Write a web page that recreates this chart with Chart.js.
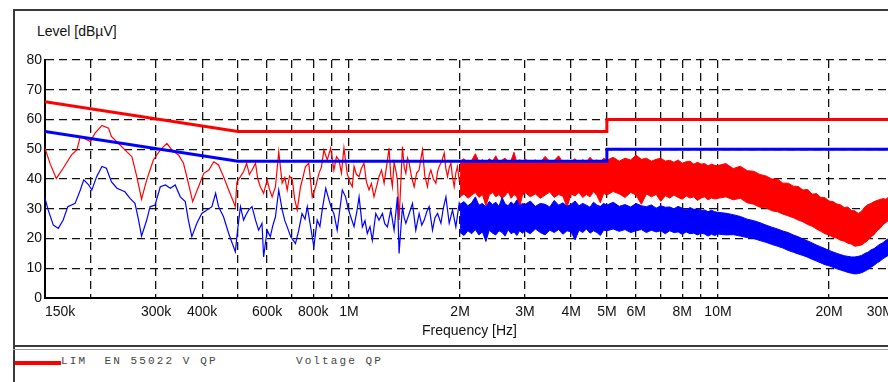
<!DOCTYPE html>
<html>
<head>
<meta charset="utf-8">
<title>Conducted emission</title>
<script src="https://cdn.jsdelivr.net/npm/chart.js"></script>
<style>
    body { margin: 0; width: 888px; height: 382px; overflow: hidden; background: #fff; position: relative; }
    #frame { position: absolute; left: 13px; top: 9px; width: 920px; height: 400px; border: 2px solid #3a3a3a; }
    #sep1 { position: absolute; left: 13px; top: 345px; width: 920px; border-top: 2px solid #3a3a3a; }
    #sep2 { position: absolute; left: 13px; top: 349px; width: 920px; border-top: 1px solid #9a9a9a; }
    #ylab { position: absolute; left: 37px; top: 23px; font: 14px "Liberation Sans", Arial, sans-serif; color: #111; }
    #legbar { position: absolute; left: 15px; top: 361px; width: 46px; height: 4px; background: #ff0000; }
    #legtxt { position: absolute; left: 61px; top: 355px; font: 11px "Liberation Mono", monospace; letter-spacing: 2.1px; color: #444; white-space: pre; }
    #c { position: absolute; left: 0; top: 0; }
</style>
</head>
<body>
<div id="frame"></div>
<div id="ylab">Level [dBµV]</div>
<canvas id="c" width="910" height="345"></canvas>
<div id="sep1"></div>
<div id="sep2"></div>
<div id="legbar"></div>
<div id="legtxt">LIM  EN 55022 V QP         Voltage QP</div>

<script>
    // frequencies in MHz, levels in dBuV
    const tickVals = [0.15, 0.2, 0.3, 0.4, 0.5, 0.6, 0.7, 0.8, 0.9, 1, 2, 3, 4, 5, 6, 7, 8, 9, 10, 20, 30];
    const tickText = ['150k', '', '300k', '400k', '', '600k', '', '800k', '', '1M', '2M', '3M', '4M', '5M', '6M', '', '8M', '', '10M', '20M', '30M'];

    // limit lines EN 55022 class B
    const limF = [0.15, 0.5, 5, 5, 30];
    const limQP = [66, 56, 56, 60, 60];
    const limAV = [56, 46, 46, 50, 50];

    // red trace below 2 MHz
    const redF = [0.150, 0.155, 0.161, 0.168, 0.177, 0.183, 0.187, 0.199, 0.205, 0.214, 0.223, 0.227, 0.237, 0.247,
        0.258, 0.266, 0.274, 0.283, 0.295, 0.308, 0.321, 0.331, 0.345, 0.356, 0.367, 0.377, 0.391, 0.404, 0.417,
        0.430, 0.443, 0.457, 0.472, 0.492, 0.497, 0.508, 0.518, 0.528, 0.537, 0.546, 0.558, 0.566, 0.575, 0.587,
        0.600, 0.609, 0.619, 0.632, 0.645, 0.659, 0.670, 0.680, 0.690, 0.702, 0.713, 0.724, 0.739, 0.750, 0.762,
        0.778, 0.795, 0.812, 0.829, 0.842, 0.855, 0.873, 0.892, 0.910, 0.925, 0.939, 0.954, 0.969, 0.989, 1.005,
        1.021, 1.032, 1.048, 1.065, 1.080, 1.098, 1.115, 1.133, 1.150, 1.169, 1.188, 1.206, 1.225, 1.245, 1.265,
        1.284, 1.298, 1.311, 1.325, 1.339, 1.353, 1.367, 1.381, 1.396, 1.411, 1.426, 1.441, 1.456, 1.479, 1.502,
        1.525, 1.549, 1.565, 1.582, 1.605, 1.632, 1.650, 1.667, 1.693, 1.720, 1.738, 1.756, 1.785, 1.812, 1.830,
        1.850, 1.870, 1.889, 1.908, 1.928, 1.948, 1.968, 1.990, 2.031, 2.060, 2.097];
    const redV = [50.3, 45, 40.2, 43.6, 48.1, 49.8, 54.3, 52.6, 55.4, 58, 57.1, 54.3, 52, 49.8,
        47.5, 40.8, 33.2, 39.7, 46.4, 49.8, 52, 49.8, 48.1, 45.3, 38.6, 32.4, 37.4, 41.9, 43,
        45.8, 44.7, 40.8, 36.3, 30.7, 39.1, 40.8, 42.5, 45.3, 41.5, 43, 45.3, 40, 37.4, 35.2,
        39.7, 36.5, 34, 37.4, 49.2, 38.6, 40.5, 36.3, 41, 39.7, 33, 29.6, 37.4, 40.5, 44.2,
        45.3, 34, 37.4, 41.9, 44, 49.8, 46.4, 50.4, 43, 47.5, 46.4, 42, 50.4, 41.9, 39,
        37.4, 44.2, 41.5, 40.8, 43.5, 45.3, 39, 36.3, 38.5, 34, 37.5, 40.8, 43, 38.6, 44.5,
        50.4, 41, 37.4, 45.5, 43, 39.5, 26.2, 38, 50.9, 44, 41.9, 47, 45.3, 40.5, 37.4,
        42, 43, 46.5, 49.8, 41, 37.4, 41.5, 43, 40, 38.6, 42.5, 44.2, 46, 48.7, 43.5,
        40.8, 44, 45.3, 40.5, 37.4, 42, 44.2, 39.5, 40.8, 44.5, 45.3];

    // blue trace below 2 MHz
    const bluF = [0.150, 0.153, 0.158, 0.163, 0.168, 0.173, 0.181, 0.187, 0.191, 0.197, 0.201, 0.207, 0.214, 0.220,
        0.227, 0.235, 0.247, 0.255, 0.263, 0.269, 0.274, 0.283, 0.289, 0.298, 0.308, 0.318, 0.328, 0.338, 0.349,
        0.360, 0.367, 0.375, 0.387, 0.399, 0.412, 0.425, 0.435, 0.443, 0.457, 0.472, 0.492, 0.500, 0.508, 0.518,
        0.526, 0.535, 0.546, 0.558, 0.569, 0.581, 0.587, 0.600, 0.612, 0.622, 0.632, 0.645, 0.659, 0.670, 0.680,
        0.695, 0.716, 0.731, 0.746, 0.760, 0.771, 0.787, 0.803, 0.820, 0.834, 0.846, 0.865, 0.883, 0.897, 0.910,
        0.929, 0.945, 0.959, 0.979, 0.995, 1.011, 1.032, 1.050, 1.065, 1.087, 1.105, 1.121, 1.140, 1.157, 1.182,
        1.206, 1.232, 1.250, 1.271, 1.298, 1.325, 1.353, 1.367, 1.396, 1.411, 1.426, 1.456, 1.486, 1.517, 1.549,
        1.575, 1.599, 1.625, 1.649, 1.684, 1.710, 1.738, 1.775, 1.800, 1.831, 1.869, 1.908, 1.948, 1.989, 2.031, 2.097];
    const bluV = [33.5, 29.6, 24.5, 23.4, 26.2, 30.7, 31.8, 36.3, 39.7, 38, 36.3, 40.8, 44.2, 43.6,
        39.1, 36.9, 35.7, 33.5, 31.8, 26.2, 20.8, 26.2, 30.7, 31.2, 37.4, 38, 36.9, 38, 34,
        32.4, 26.2, 20.6, 25.1, 28.4, 29.6, 30.7, 35.2, 30.7, 27.3, 21.7, 15.5, 23.9, 30.7, 26.2,
        28, 29.6, 30.7, 26.2, 22.8, 25.1, 13.8, 22.8, 20.6, 24.5, 27.3, 36.3, 29.6, 26, 23.9,
        20.6, 18.3, 22.8, 28.4, 26.5, 30.7, 23.9, 17.2, 26.2, 24, 29.6, 36.9, 32.9, 30, 28.4,
        22.8, 30, 36.3, 34, 30, 27.3, 24, 29, 34, 23.9, 26, 21.7, 24, 19.4, 28.4,
        26.2, 28.4, 25, 23.9, 29.6, 22.8, 34, 15, 30.7, 27, 25.1, 28.4, 31.8, 22.8, 28.4,
        24.5, 26.2, 29, 30.7, 22.8, 27, 28.4, 25.1, 30, 34, 25.1, 29.6, 23.9, 31.8, 27.3, 30.7];

    // dense part above 2 MHz: upper and lower edge of each band
    const bandF = [2.0, 2.05, 2.1, 2.15, 2.2, 2.25, 2.3, 2.35, 2.4, 2.45, 2.5, 2.55, 2.6, 2.65, 2.7, 2.75, 2.8, 2.85, 2.9, 2.95,
        3.0, 3.1, 3.2, 3.3, 3.4, 3.5, 3.6, 3.7, 3.8, 3.9, 4.0, 4.1, 4.2, 4.3, 4.4, 4.5, 4.6, 4.7, 4.8, 4.9,
        5.0, 5.2, 5.4, 5.6, 5.8, 6.0, 6.2, 6.4, 6.6, 6.8, 7.0, 7.2, 7.4, 7.6, 7.8, 8.0, 8.2, 8.4, 8.6, 8.8,
        9.0, 9.2, 9.4, 9.6, 9.8,
        10, 10.5, 11, 11.5, 12, 12.5, 13, 13.5, 14, 14.5, 15, 15.5, 16, 16.5, 17, 17.5, 18, 18.5, 19, 19.5,
        20, 20.5, 21, 21.5, 22, 22.5, 23, 23.5, 24, 24.5, 25, 25.5, 26, 26.5, 27, 27.5, 28, 28.5, 29, 29.5, 30];
    const redHi = [46, 46.8, 45.5, 46.2, 48.5, 45.8, 46.5, 45.5, 46.8, 46, 47.8, 45.6, 46.4, 47, 45.8, 46.2, 49, 45.5, 46.5, 45.8,
        46.6, 45.8, 46.4, 45.5, 47.6, 45.9, 46.2, 47.8, 45.5, 46.3, 45.9, 46.8, 45.4, 46.5, 45.8, 47.3, 46, 46.4, 45.6, 47,
        46.3, 47.3, 46, 47, 46.4, 48, 46.6, 47, 46, 46.6, 47, 46, 46.3, 45.6, 46.4, 45.3, 45.8, 46, 45, 45.6,
        45, 45.2, 44.4, 45, 44.6,
        44.5, 45.2, 43.5, 44.3, 42.8, 42.6, 41.5, 41, 40, 40, 38.6, 38.6, 37.6, 37.5, 36.3, 36.5, 34.9, 35.1, 33.8, 33.7,
        32.6, 32.4, 31.6, 31.3, 30.4, 30.6, 29.4, 29.3, 28.4, 29.2, 30.6, 31.4, 31.8, 32.4, 32.8, 33.1, 33.4, 33.2, 33.9, 33.6, 34];
    const redLo = [34, 35, 33.5, 34.5, 35.5, 33.8, 34.8, 31, 34.6, 35.5, 34, 34.8, 33.5, 34.4, 35.8, 33.5, 34.8, 34, 30.5, 34.4,
        35.5, 34, 35, 33.5, 34.6, 35.6, 33.8, 34.8, 34.2, 30.5, 35, 34.3, 35.5, 33.8, 34.8, 34, 35.8, 34.4, 32, 35.2,
        34.6, 35.8, 35, 33.8, 35.5, 34.6, 31.5, 35, 34, 34.8, 32.5, 34.4, 33.6, 34.6, 33.8, 33.2, 34.3, 33.6, 34, 32.8,
        33.6, 34, 33, 33.6, 33.3,
        33.5, 34, 33, 33.5, 32, 31.5, 30.5, 30.3, 29.3, 29, 28.2, 27.6, 27, 26.2, 25.6, 24.7, 24.1, 23.2, 22.4, 21.6,
        21.2, 20.4, 20.1, 19.4, 19.1, 18.4, 18.1, 17.4, 17.6, 17.8, 18.6, 19.4, 20.6, 21.3, 22.6, 23.4, 24.6, 25.3, 26.1, 26.4, 27];
    const bluHi = [31.5, 32.4, 31, 32, 34, 31.2, 31.8, 30.6, 32.5, 31.4, 32.2, 30.8, 33.8, 31.6, 31, 32.3, 31.4, 33, 31, 31.8,
        31.4, 32.6, 30.8, 31.8, 31.5, 30.6, 32.8, 31.2, 32, 30.8, 31.5, 32.6, 31, 31.8, 31.2, 30.5, 32.2, 31.2, 30.8, 31.8,
        31.2, 32.2, 30.8, 31.4, 30.6, 31.8, 31, 30.7, 31.3, 30.2, 31, 30.5, 30.6, 30, 30.8, 30.2, 29.6, 30.4, 29.8, 30,
        29.4, 29.6, 29, 29.5, 29,
        28.8, 28.5, 28, 27.4, 26.5, 26, 25.3, 24.5, 23.8, 23.2, 22.5, 22, 21.2, 20.6, 19.8, 19.2, 18.5, 17.8, 17.2, 16.6,
        16, 15.5, 15, 14.6, 14.2, 14, 13.8, 13.8, 14, 14.3, 15, 15.4, 16.2, 16.6, 17.4, 18.1, 18.6, 19.4, 20, 20.4, 21];
    const bluLo = [22, 21, 22.6, 21.6, 23, 21.2, 22.2, 19, 22.8, 21.8, 21.2, 22.6, 22, 20.8, 23, 21.6, 22.2, 21, 22.6, 21.8,
        22.6, 21.6, 23.2, 22, 21.2, 22.8, 22, 23, 21.4, 22.6, 22.2, 19.5, 22.8, 22, 23.2, 21.8, 22.6, 22, 21, 22.8,
        22.6, 23.2, 22.4, 23, 22, 22.6, 23, 22, 22.8, 22.2, 22.6, 21.6, 22.6, 22, 22.2, 21.4, 22.2, 21.6, 21.8, 21.2,
        21.8, 21.5, 20.8, 21.4, 21,
        21.5, 21.2, 21.3, 20.8, 20.3, 20, 19.3, 18.7, 18, 17.4, 16.8, 16, 15.4, 14.8, 14.3, 13.7, 13, 12.4, 11.8, 11.2,
        10.8, 10.3, 9.8, 9.4, 9, 8.6, 8.3, 8.1, 8.2, 8.5, 9, 9.6, 10.3, 11, 11.8, 12.4, 13.2, 13.8, 14.4, 14.8, 15.2];

    const pts = (xs, ys) => xs.map((x, i) => ({x: x, y: ys[i]}));
    const RED = '#ff0000', BLUE = '#0000ff';
    const font = {family: '"Liberation Sans", Arial, sans-serif', size: 14};

    new Chart(document.getElementById('c'), {
        type: 'line',
        data: {
            datasets: [
                {data: pts(limF, limQP), borderColor: RED, borderWidth: 3},
                {data: pts(limF, limAV), borderColor: BLUE, borderWidth: 3},
                {data: pts(bluF, bluV), borderColor: BLUE, borderWidth: 1.2},
                {data: pts(bandF, bluHi), borderColor: BLUE, borderWidth: 1},
                {data: pts(bandF, bluLo), borderColor: BLUE, borderWidth: 1, fill: '-1', backgroundColor: BLUE},
                {data: pts(redF, redV), borderColor: RED, borderWidth: 1.2},
                {data: pts(bandF, redHi), borderColor: RED, borderWidth: 1},
                {data: pts(bandF, redLo), borderColor: RED, borderWidth: 1, fill: '-1', backgroundColor: RED}
            ]
        },
        options: {
            responsive: false,
            animation: false,
            devicePixelRatio: 1,
            layout: {padding: {left: 0, top: 60, right: 16, bottom: 0}},
            elements: {point: {radius: 0}, line: {tension: 0}},
            plugins: {legend: {display: false}, tooltip: {enabled: false}},
            scales: {
                x: {
                    type: 'logarithmic',
                    min: 0.15,
                    max: 30,
                    afterBuildTicks: s => { s.ticks = tickVals.map(v => ({value: v})); },
                    afterFit: s => { s.height = 47; },
                    ticks: {
                        autoSkip: false, maxRotation: 0, minRotation: 0, padding: 6, align: 'inner',
                        color: '#111', font: font,
                        callback: (v, i) => tickText[i]
                    },
                    grid: {color: '#111', lineWidth: 1.3, drawTicks: false},
                    border: {display: true, color: '#000', width: 2, dash: [8, 5]},
                    title: {display: true, text: 'Frequency [Hz]', color: '#111', font: font, padding: {top: 0, bottom: 5}}
                },
                y: {
                    min: 0,
                    max: 80,
                    afterFit: s => { s.width = 45; },
                    ticks: {stepSize: 10, padding: 3, color: '#111', font: font},
                    grid: {color: '#111', lineWidth: 1.3, drawTicks: false},
                    border: {display: true, color: '#000', width: 2, dash: [8, 5]}
                }
            }
        }
    });
</script>
</body>
</html>
